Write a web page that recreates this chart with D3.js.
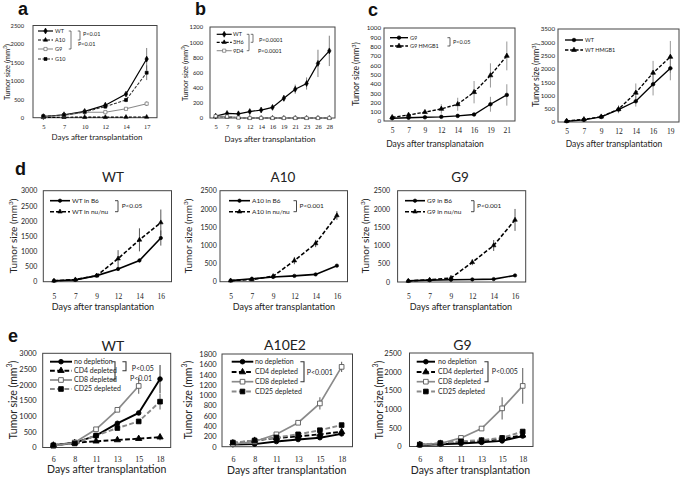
<!DOCTYPE html>
<html><head><meta charset="utf-8">
<script src="https://cdn.jsdelivr.net/npm/d3@7/dist/d3.min.js"></script>
<style>body{margin:0;background:#fff}</style>
</head><body>
<script>
// ---------- DATA ----------
// Panel a
const aDays = ["5","7","10","12","14","17"];
const aWT = [30, 80, 170, 340, 640, 1590], aWTerr = [0, 10, 20, 30, 40, 300];
const aA10 = [10, 12, 14, 15, 18, 20];
const aG9 = [30, 60, 150, 150, 240, 380], aG9err = [0, 0, 0, 20, 30, 60];
const aG10 = [40, 70, 160, 300, 480, 1220], aG10err = [0, 0, 20, 40, 60, 200];
// Panel b
const bDays = ["5","7","9","12","14","16","19","21","23","26","28"];
const bWT = [25, 60, 55, 85, 105, 140, 260, 380, 455, 720, 885];
const bWTerr = [5, 10, 10, 10, 15, 15, 40, 60, 80, 180, 200];
const b3H6 = [20, 15, 5, 0, 0, 0, 0, 0, 0, 0, 0];
const b9D4 = [25, 20, 5, 0, 0, 0, 0, 0, 0, 0, 0];
// Panel c (left)
const cDays = ["5","7","9","12","14","16","19","21"];
const cG9 = [30, 35, 40, 45, 55, 70, 180, 280], cG9err = [5, 5, 5, 10, 10, 15, 80, 115];
const cG9H = [40, 65, 95, 130, 180, 310, 490, 700], cG9Herr = [10, 15, 20, 50, 70, 120, 130, 155];
// Panel c (right)
const c2Days = ["5","7","9","12","14","16","19"];
const c2WT = [30, 80, 190, 470, 780, 1420, 2020], c2WTerr = [10, 20, 40, 100, 200, 420, 450];
const c2WTH = [40, 100, 200, 480, 1100, 1850, 2450], c2WTHerr = [10, 20, 40, 150, 350, 450, 600];
// Panel d
const dDays = ["5","7","9","12","14","16"];
const dWTB6 = [30, 60, 200, 420, 700, 1440], dWTB6err = [0, 10, 30, 50, 60, 250];
const dWTnu = [30, 70, 200, 760, 1380, 1950], dWTnuerr = [0, 10, 40, 280, 380, 430];
const dA10B6 = [30, 80, 130, 160, 200, 440], dA10B6err = [0, 0, 10, 20, 20, 30];
const dA10nu = [30, 60, 150, 580, 1050, 1820], dA10nuerr = [0, 10, 30, 100, 100, 120];
const dG9B6 = [30, 50, 60, 70, 80, 180], dG9B6err = [0, 0, 5, 5, 10, 20];
const dG9nu = [30, 60, 110, 540, 1000, 1700], dG9nuerr = [0, 0, 20, 80, 150, 300];
// Panel e
const eDays = ["6","8","11","13","15","18"];
const eWTno = [70, 150, 380, 770, 1100, 2180], eWTnoErr = [0, 0, 0, 0, 0, 450];
const eWTcd4 = [70, 150, 200, 240, 280, 330], eWTcd4Err = [0, 0, 0, 0, 0, 100];
const eWTcd8 = [50, 160, 580, 1200, 1960, null], eWTcd8Err = [0, 0, 0, 0, 250, 0];
const eWTcd25 = [70, 130, 380, 620, 830, 1460], eWTcd25Err = [0, 0, 0, 0, 0, 250];
const eAno = [40, 50, 100, 140, 175, 250];
const eAcd4 = [70, 120, 170, 200, 240, 290];
const eAcd8 = [50, 100, 240, 465, 840, 1550], eAcd8Err = [0, 0, 0, 0, 120, 100];
const eAcd25 = [80, 120, 180, 240, 320, 420];
const eGno = [40, 60, 80, 110, 150, 280];
const eGcd4 = [50, 80, 120, 140, 200, 300];
const eGcd8 = [50, 80, 230, 480, 1020, 1620], eGcd8Err = [0, 0, 0, 0, 300, 480];
const eGcd25 = [50, 90, 140, 170, 230, 400];

const panelLetters = ["a", "b", "c", "d", "e"];
const depLabels = ["no depletion", "CD4 depleted", "CD8 depleted", "CD25 depleted"];
const depLabelsG9 = ["no depletion", "CD4 deplerted", "CD8 depleted", "CD25 depleted"];

// ---------- DRAWING ----------
const SANS = "Lato, 'Open Sans', 'Liberation Sans', sans-serif";
const SERIF = "'Liberation Serif', 'DejaVu Serif', serif";
const svg = d3.select("body").append("svg").attr("width", 685).attr("height", 479)
  .style("font-family", SANS);

const STY = {
  dia:       {c:"#000", w:1.6, dash:null,  sym:d3.symbolDiamond,  sz:18, f:"#000", s:"#000"},
  solid:     {c:"#000", w:1.6, dash:null,  sym:d3.symbolCircle,   sz:14, f:"#000", s:"#000"},
  dashTri:   {c:"#000", w:1.6, dash:[4,2], sym:d3.symbolTriangle, sz:14, f:"#000", s:"#000"},
  grayOpen:  {c:"#8a8a8a", w:1.4, dash:null, sym:d3.symbolSquare, sz:18, f:"#fff", s:"#555"},
  grayDashSq:{c:"#8a8a8a", w:1.6, dash:[4,2], sym:d3.symbolSquare, sz:18, f:"#000", s:"#000"},
  dashSq:    {c:"#333", w:1.4, dash:[4,2], sym:d3.symbolSquare, sz:16, f:"#000", s:"#000"}
};

function yTitle(g, x, yc, fs) {
  const t = g.append("text").attr("transform", `translate(${x},${yc}) rotate(-90)`)
    .attr("text-anchor", "middle").attr("dy", "0.35em").attr("font-size", fs).attr("fill", "#222");
  t.append("tspan").text("Tumor size (mm");
  t.append("tspan").text("3").attr("font-size", fs * 0.65).attr("dy", -fs * 0.4);
  t.append("tspan").text(")").attr("dy", fs * 0.4);
}

function drawPanel(p) {
  const g = svg.append("g");
  const sc = p.sc, msc = p.msc || p.sc;
  const x = d3.scalePoint().domain(p.days).range([p.x0, p.x1]).padding(0.5);
  const y = d3.scaleLinear().domain([0, p.yMax]).range([p.y1, p.y0]);

  const ya = d3.axisLeft(y).tickValues(d3.range(0, p.yMax + p.step / 2, p.step))
    .tickSize(0).tickPadding(p.x0 - p.ylabR).tickFormat(d3.format("d"));
  const yg = g.append("g").attr("transform", `translate(${p.x0},0)`).call(ya);
  yg.select(".domain").remove();
  yg.selectAll("text").attr("font-size", p.ytf).attr("font-family", SANS).attr("fill", "#222");
  const xa = d3.axisBottom(x).tickSize(0).tickPadding(p.xlabY - p.y1);
  const xg = g.append("g").attr("transform", `translate(0,${p.y1})`).call(xa);
  xg.select(".domain").remove();
  xg.selectAll("text").attr("font-size", p.xtf).attr("font-family", SERIF).attr("dy", "0.35em").attr("fill", "#222");

  g.append("rect").attr("x", p.x0).attr("y", p.y0).attr("width", p.x1 - p.x0).attr("height", p.y1 - p.y0)
    .attr("fill", "none").attr("stroke", p.boxc || "#444").attr("stroke-width", p.boxw || 1);

  const ser = p.series.map(s => ({...s, st: STY[s.st],
    pts: p.days.map((d, i) => ({d, v: s.v[i], e: s.e ? s.e[i] : 0}))}));
  ser.forEach(s => {
    const line = d3.line().defined(d => d.v != null).x(d => x(d.d)).y(d => y(d.v));
    g.append("path").attr("d", line(s.pts)).attr("fill", "none")
      .attr("stroke", s.st.c).attr("stroke-width", s.st.w * sc)
      .attr("stroke-dasharray", s.st.dash ? s.st.dash.map(v => v * sc).join(",") : null);
  });
  ser.forEach(s => {
    g.selectAll(null).data(s.pts.filter(d => d.v != null && d.e > 0)).enter().append("line")
      .attr("x1", d => x(d.d)).attr("x2", d => x(d.d))
      .attr("y1", d => y(d.v - d.e)).attr("y2", d => y(d.v + d.e))
      .attr("stroke", s.errc || "#444").attr("stroke-width", 0.9 * sc);
  });
  ser.forEach(s => {
    const sym = d3.symbol().type(s.st.sym).size(s.st.sz * msc * msc);
    g.selectAll(null).data(s.pts.filter(d => d.v != null)).enter().append("path")
      .attr("d", sym).attr("transform", d => `translate(${x(d.d)},${y(d.v)})`)
      .attr("fill", s.st.f).attr("stroke", s.st.s).attr("stroke-width", 0.8 * msc);
  });

  const L = p.leg;
  ser.forEach((s, i) => {
    const yy = L.ys[i];
    g.append("line").attr("x1", L.x0).attr("x2", L.x1).attr("y1", yy).attr("y2", yy)
      .attr("stroke", s.st.c).attr("stroke-width", s.st.w * sc)
      .attr("stroke-dasharray", s.st.dash ? s.st.dash.map(v => v * sc).join(",") : null);
    g.append("path").attr("d", d3.symbol().type(s.st.sym).size(s.st.sz * msc * msc))
      .attr("transform", `translate(${(L.x0 + L.x1) / 2},${yy})`)
      .attr("fill", s.st.f).attr("stroke", s.st.s).attr("stroke-width", 0.8 * msc);
    g.append("text").attr("x", L.tx).attr("y", yy).attr("dy", "0.35em")
      .attr("font-size", L.fs).attr("fill", "#222").text(s.n);
  });
  (p.brackets || []).forEach(b => {
    g.append("path").attr("d", `M${b.x - 3 * sc},${b.y1}H${b.x}V${b.y2}H${b.x - 3 * sc}`)
      .attr("fill", "none").attr("stroke", "#333").attr("stroke-width", 0.9 * sc);
  });
  (p.ptexts || []).forEach(t => {
    g.append("text").attr("x", t.x).attr("y", t.y).attr("dy", "0.35em")
      .attr("font-size", p.pfs || L.fs).attr("fill", "#222").text(t.t);
  });
  if (p.title) g.append("text").attr("x", p.title.x).attr("y", p.title.y)
    .attr("text-anchor", "middle").attr("font-size", p.title.fs).attr("fill", "#222").text(p.title.t);
  g.append("text").attr("x", p.xtitle.x).attr("y", p.xtitle.y).attr("dy", "0.35em")
    .attr("text-anchor", "middle").attr("font-size", p.xtitle.fs).attr("fill", "#222").text(p.xtitle.t);
  yTitle(g, p.ytitle.x, p.ytitle.y, p.ytitle.fs);
}

const DAT = "Days after transplantation";
const panels = [
  {days:aDays, x0:33, x1:157, y0:25.5, y1:117.7, yMax:2500, step:500, ylabR:24, xlabY:127, ytf:5.8, xtf:6.5, sc:0.75,
   xtitle:{t:DAT, x:97, y:137, fs:8}, ytitle:{x:7.5, y:72, fs:7.5},
   leg:{x0:38, x1:53, tx:55, ys:[31, 40, 49, 59], fs:5.5},
   series:[{n:"WT", v:aWT, e:aWTerr, st:"dia"}, {n:"A10", v:aA10, st:"dashTri"},
           {n:"G9", v:aG9, e:aG9err, st:"grayOpen"}, {n:"G10", v:aG10, e:aG10err, st:"dashSq"}],
   brackets:[{x:71, y1:31, y2:49}, {x:80, y1:31, y2:40}],
   ptexts:[{x:83, y:34.3, t:"P<0.01"}, {x:78, y:44.3, t:"P<0.01"}]},
  {days:bDays, x0:210, x1:335, y0:27, y1:118, yMax:1200, step:200, ylabR:203, xlabY:127, ytf:5.8, xtf:6.5, sc:0.75,
   xtitle:{t:DAT, x:270, y:139, fs:8}, ytitle:{x:185, y:73, fs:7.5},
   leg:{x0:216.7, x1:231.7, tx:233, ys:[34.3, 42.3, 50.7], fs:5.5},
   series:[{n:"WT", v:bWT, e:bWTerr, st:"dia"}, {n:"3H6", v:b3H6, st:"dashTri"}, {n:"9D4", v:b9D4, st:"grayOpen"}],
   brackets:[{x:253, y1:34.3, y2:42.3}, {x:249, y1:34.3, y2:50.7}],
   ptexts:[{x:259, y:40.5, t:"P<0.0001"}, {x:258, y:51.5, t:"P<0.0001"}]},
  {days:cDays, x0:384, x1:515, y0:28, y1:121, yMax:1000, step:100, ylabR:381, xlabY:130, ytf:6.2, xtf:7.5, sc:0.85,
   xtitle:{t:"Days after transplanataion", x:435, y:144, fs:8.5}, ytitle:{x:356, y:74, fs:8.5},
   leg:{x0:390, x1:408, tx:410, ys:[37.7, 46], fs:5.5},
   series:[{n:"G9", v:cG9, e:cG9err, st:"solid", errc:"#777"}, {n:"G9 HMGB1", v:cG9H, e:cG9Herr, st:"dashTri", errc:"#777"}],
   brackets:[{x:450, y1:37.7, y2:46}], ptexts:[{x:453, y:42, t:"P<0.05"}]},
  {days:c2Days, x0:558, x1:679, y0:29, y1:122, yMax:3500, step:500, ylabR:555, xlabY:131, ytf:6.2, xtf:7.5, sc:0.85,
   xtitle:{t:DAT, x:614, y:144, fs:8.5}, ytitle:{x:536, y:75, fs:8.5},
   leg:{x0:565, x1:583, tx:585, ys:[40, 50], fs:5.5},
   series:[{n:"WT", v:c2WT, e:c2WTerr, st:"solid", errc:"#777"}, {n:"WT HMGB1", v:c2WTH, e:c2WTHerr, st:"dashTri", errc:"#777"}]},
  {days:dDays, x0:43.3, x1:171.5, y0:190.7, y1:281.7, yMax:3000, step:500, ylabR:37.3, xlabY:296.7, ytf:7, xtf:7.5, sc:1, msc:0.8,
   title:{t:"WT", x:113, y:182, fs:13.5}, xtitle:{t:DAT, x:103, y:306.7, fs:9}, ytitle:{x:13, y:236, fs:10},
   leg:{x0:50, x1:70, tx:72, ys:[200.7, 211.7], fs:6.5},
   series:[{n:"WT in B6", v:dWTB6, e:dWTB6err, st:"solid"}, {n:"WT in nu/nu", v:dWTnu, e:dWTnuerr, st:"dashTri"}],
   brackets:[{x:118, y1:200.7, y2:211.7}], ptexts:[{x:121.7, y:205.5, t:"P<0.05"}]},
  {days:dDays, x0:220, x1:347.5, y0:190.7, y1:281.7, yMax:2500, step:500, ylabR:216.7, xlabY:296.7, ytf:7, xtf:7.5, sc:1, msc:0.8,
   title:{t:"A10", x:283, y:182, fs:13.5}, xtitle:{t:DAT, x:284, y:306.7, fs:9}, ytitle:{x:188, y:236, fs:10},
   leg:{x0:229, x1:250, tx:252, ys:[200.7, 211.7], fs:6.5},
   series:[{n:"A10 in B6", v:dA10B6, e:dA10B6err, st:"solid"}, {n:"A10 in nu/nu", v:dA10nu, e:dA10nuerr, st:"dashTri"}],
   brackets:[{x:296.5, y1:200.7, y2:211.7}], ptexts:[{x:299.5, y:206, t:"P<0.001"}]},
  {days:dDays, x0:397.6, x1:525.7, y0:190.7, y1:282, yMax:2500, step:500, ylabR:390, xlabY:296.7, ytf:7, xtf:7.5, sc:1, msc:0.8,
   title:{t:"G9", x:460, y:182, fs:13.5}, xtitle:{t:DAT, x:461, y:306.7, fs:9}, ytitle:{x:365, y:236, fs:10},
   leg:{x0:405, x1:425, tx:427, ys:[200.7, 211.7], fs:6.5},
   series:[{n:"G9 in B6", v:dG9B6, e:dG9B6err, st:"solid"}, {n:"G9 in nu/nu", v:dG9nu, e:dG9nuerr, st:"dashTri"}],
   brackets:[{x:474, y1:200.7, y2:211.7}], ptexts:[{x:477, y:205.7, t:"P<0.001"}]},
  {days:eDays, x0:42.7, x1:170.7, y0:353.3, y1:447.5, yMax:3000, step:500, ylabR:36.7, xlabY:459.3, ytf:7.5, xtf:8, sc:1.2, msc:1.1,
   title:{t:"WT", x:113, y:351, fs:14}, xtitle:{t:DAT, x:106.7, y:469.3, fs:10.5}, ytitle:{x:13, y:400, fs:10.5},
   leg:{x0:50, x1:72, tx:74, ys:[361.7, 370.7, 380, 389], fs:7},
   series:[{n:depLabels[0], v:eWTno, e:eWTnoErr, st:"solid"}, {n:depLabels[1], v:eWTcd4, e:eWTcd4Err, st:"dashTri"},
           {n:depLabels[2], v:eWTcd8, e:eWTcd8Err, st:"grayOpen", errc:"#666"}, {n:depLabels[3], v:eWTcd25, e:eWTcd25Err, st:"grayDashSq", errc:"#666"}],
   brackets:[{x:115, y1:361.7, y2:380}, {x:126, y1:361.7, y2:370.7}],
   ptexts:[{x:131.7, y:368.3, t:"P<0.05"}, {x:130, y:379, t:"P<0.01"}]},
  {days:eDays, x0:222, x1:352.5, y0:354, y1:446.7, yMax:1800, step:200, ylabR:216.7, xlabY:459.3, ytf:7.5, xtf:8, sc:1.2, msc:1.1,
   title:{t:"A10E2", x:285, y:350, fs:14}, xtitle:{t:DAT, x:286.7, y:470, fs:10.5}, ytitle:{x:188, y:400, fs:10.5},
   leg:{x0:231.7, x1:253.3, tx:255, ys:[361.7, 372, 381.7, 391.5], fs:7},
   series:[{n:depLabels[0], v:eAno, st:"solid"}, {n:depLabels[1], v:eAcd4, st:"dashTri"},
           {n:depLabels[2], v:eAcd8, e:eAcd8Err, st:"grayOpen", errc:"#666"}, {n:depLabels[3], v:eAcd25, st:"grayDashSq"}],
   brackets:[{x:304, y1:361.7, y2:381.7}], ptexts:[{x:306.7, y:372.3, t:"P<0.001"}]},
  {days:eDays, x0:409.5, x1:533, y0:353, y1:446.5, yMax:2500, step:500, ylabR:401.7, xlabY:459.3, ytf:7.5, xtf:8, sc:1.2, msc:1.1,
   title:{t:"G9", x:462.5, y:350, fs:14}, xtitle:{t:DAT, x:470.5, y:470, fs:10.5}, ytitle:{x:379, y:400, fs:10.5},
   leg:{x0:416.7, x1:435, tx:438, ys:[361.7, 372, 381.7, 391.5], fs:7},
   series:[{n:depLabelsG9[0], v:eGno, st:"solid"}, {n:depLabelsG9[1], v:eGcd4, st:"dashTri"},
           {n:depLabelsG9[2], v:eGcd8, e:eGcd8Err, st:"grayOpen", errc:"#666"}, {n:depLabelsG9[3], v:eGcd25, st:"grayDashSq"}],
   brackets:[{x:488, y1:361.7, y2:381.7}], ptexts:[{x:491.7, y:372, t:"P<0.005"}]}
];
panels.forEach(drawPanel);

const letterPos = [[18, 15], [195, 15], [368, 16], [15, 175], [8, 342]];
panelLetters.forEach((l, i) => {
  svg.append("text").attr("x", letterPos[i][0]).attr("y", letterPos[i][1])
    .attr("font-family", "'Liberation Sans', Arial, sans-serif").attr("font-weight", "bold")
    .attr("font-size", 18).attr("fill", "#111").text(l);
});
</script>
</body></html>
